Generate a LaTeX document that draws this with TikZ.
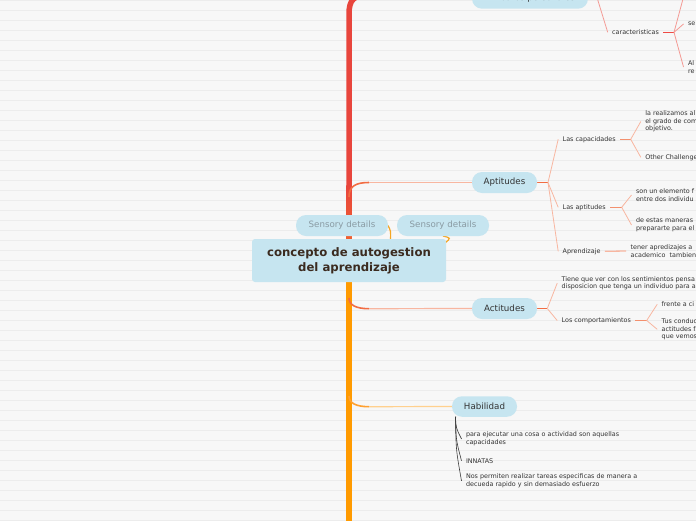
\documentclass[tikz,border=0pt]{standalone}
\usepackage{fontspec}
\setmainfont{DejaVu Sans}
\definecolor{bgcol}{HTML}{F7F7F7}
\definecolor{gridcol}{HTML}{ECECEC}
\definecolor{nodeblue}{HTML}{C6E5F0}
\definecolor{labeltext}{HTML}{333333}
\definecolor{maintext}{HTML}{3B2B20}
\definecolor{sensegray}{HTML}{8A9BA3}
\definecolor{trunkred}{HTML}{E8453C}
\definecolor{trunkmid}{HTML}{F0602F}
\definecolor{trunkorange}{HTML}{FF9A00}
\definecolor{aptdark}{HTML}{F26C42}
\definecolor{aptmid}{HTML}{F3906E}
\definecolor{aptlight}{HTML}{F8B6A0}
\definecolor{atrdark}{HTML}{EE4A44}
\definecolor{atrlight}{HTML}{F49A94}
\definecolor{habdark}{HTML}{FFA030}
\definecolor{hablight}{HTML}{FFD08E}
\definecolor{sensecon}{HTML}{F5A623}
\definecolor{habfan}{HTML}{3A3A3A}
\pgfdeclarelayer{back}
\pgfdeclarelayer{lines}
\pgfsetlayers{back,lines,main}
\begin{document}
\begin{tikzpicture}[x=1pt,y=-1pt,
  every node/.style={inner sep=0pt, outer sep=0pt},
  topic/.style={fill=nodeblue, rounded corners=10pt, minimum height=21pt,
    font=\fontsize{8.7}{10}\selectfont, text=labeltext},
  sensory/.style={topic, text=sensegray, minimum width=92pt},
  central/.style={fill=nodeblue, rounded corners=3pt, minimum width=194pt,
    minimum height=43pt, align=center, text=maintext,
    font=\fontsize{11.7}{15}\bfseries\selectfont},
  leaf/.style={anchor=west, align=left, inner xsep=4.5pt,
    font=\fontsize{6.4}{7.7}\selectfont, text=labeltext},
  gridline/.style={draw=gridcol, line width=0.9pt},
  trunk/.style={line width=5.5pt},
  brcurve/.style={draw=#1, line width=1.6pt},
  brline/.style={draw=#1, line width=1.2pt},
  stem/.style={draw=#1, line width=1.3pt},
  fan/.style={draw=#1, line width=0.8pt},
  habline/.style={draw=habfan, line width=0.6pt},
  sensoryline/.style={draw=sensecon, line width=1.2pt}
]
\useasboundingbox (0,0) rectangle (696,520);
\clip (0,0) rectangle (696,520);
\begin{pgfonlayer}{back}
\fill[bgcol] (0,0) rectangle (696,520);
\foreach \k in {0,...,52} \draw[gridline] (0,{10*\k+0.7}) -- (696,{10*\k+0.7});
\end{pgfonlayer}

% main nodes
\node[central] (c) at (349,260.5) {concepto de autogestion\\del aprendizaje};
\node[sensory] (s1) at (342,225.5) {Sensory details};
\node[sensory] (s2) at (443,225.5) {Sensory details};
\node[topic, minimum width=116pt] (atr) at (530,-1.8) {Atributos personales};
\node[topic, minimum width=65pt] (apt) at (504.5,182.5) {Aptitudes};
\node[topic, minimum width=65pt] (act) at (504.5,308.5) {Actitudes};
\node[topic, minimum width=65pt, minimum height=20.5pt] (hab) at (484.5,406.5) {Habilidad};

% leaves: Atributos personales
\node[leaf] (car) at (607.7,32.3) {caracteristicas};
\node[leaf] (carA) at (683.5,24) {se};
\node[leaf] (carB) at (683.5,67) {Al\\re};
% leaves: Aptitudes
\node[leaf] (cap) at (558.2,139.3) {Las capacidades};
\node[leaf] (capA) at (640.8,121.5) {la realizamos al\\el grado de com\\objetivo.};
\node[leaf] (capB) at (640.8,157.3) {Other Challenge};
\node[leaf] (aptd) at (558.2,207.3) {Las aptitudes};
\node[leaf] (aptdA) at (631.5,195) {son un elemento f\\entre dos individu};
\node[leaf] (aptdB) at (631.5,225) {de estas maneras\\prepararte para el};
\node[leaf] (apr) at (558.2,251.3) {Aprendizaje};
\node[leaf] (aprA) at (626.2,251) {tener apredizajes a\\academico\ \ tambien};
% leaves: Actitudes
\node[leaf] (actA) at (557.2,283.2) {Tiene que ver con los sentimientos pensa\\disposicion que tenga un individuo para a};
\node[leaf] (comp) at (557.2,320.5) {Los comportamientos};
\node[leaf] (compA) at (657.2,304.3) {frente a ci};
\node[leaf] (compB) at (657.2,329.3) {Tus conduc\\actitudes f\\que vemos};
% leaves: Habilidad
\node[leaf] (h1) at (461.5,438.9) {para ejecutar una cosa o actividad son aquellas\\capacidades};
\node[leaf] (h2) at (461.5,460.7) {INNATAS};
\node[leaf] (h3) at (461.5,480.8) {Nos permiten realizar tareas especificas de manera a\\decueda rapido y sin demasiado esfuerzo};

% coordinates
\coordinate (tA) at (349,197);
\coordinate (tC) at (349,298);
\coordinate (tH) at (349,396);
\coordinate (aC) at (369,182.5);
\coordinate (cC) at (369,308.7);
\coordinate (hC) at (369,406.7);
\coordinate (atF) at (597,-2.5);
\coordinate (carF) at (674,32.3);
\coordinate (carUp) at (687,-16);
\coordinate (aF) at (548,182.5);
\coordinate (capF) at (630.7,139.3);
\coordinate (aptdF) at (621.7,207.3);
\coordinate (acF) at (547.3,308.5);
\coordinate (compF) at (646.7,320.5);
\coordinate (hF) at (455.5,417);

\begin{pgfonlayer}{lines}
% trunk
\draw[trunk, draw=trunkred] (c.north) -- (349,14) .. controls (349,0) and (354,-4.5) .. (366,-4.5) -- (atr.west |- 0,-4.5);
\shade[top color=trunkred, bottom color=trunkmid] (346.25,185) rectangle (351.75,240);
\draw[trunk, draw=trunkorange] (c.south) -- (349,525);
% sensory connectors
\draw[sensoryline] (390.5,239.5) .. controls (390.8,231) .. (s1.east);
\draw[sensoryline] (c.north east) ++(-1,4) .. controls (451,238) .. (s2.south);
% branches
\draw[brcurve=aptdark] (tA) .. controls (349,186) and (356,182.5) .. (aC);
\draw[brline=aptlight] (aC) -- (apt.west);
\draw[brcurve=aptdark] (tC) .. controls (349,305) and (356,308.7) .. (cC);
\draw[brline=aptlight] (cC) -- (act.west);
\draw[brcurve=habdark] (tH) .. controls (349,403) and (356,406.7) .. (hC);
\draw[brline=hablight] (hC) -- (hab.west);
% Atributos subtree
\draw[fan=atrlight] (atr.east) -- (atF) -- (car.west);
\draw[stem=atrdark] (car.east) -- (carF);
\draw[fan=atrlight] (carF) -- (carUp);
\draw[fan=atrlight] (carF) -- (carA.west);
\draw[fan=atrlight] (carF) -- (carB.west);
% Aptitudes subtree
\draw[stem=aptdark] (apt.east) -- (aF);
\draw[fan=aptlight] (aF) -- (cap.west);
\draw[fan=aptlight] (aF) -- (aptd.west);
\draw[fan=aptlight] (aF) -- (apr.west);
\draw[stem=aptmid] (cap.east) -- (capF);
\draw[fan=aptlight] (capF) -- (capA.west);
\draw[fan=aptlight] (capF) -- (capB.west);
\draw[stem=aptmid] (aptd.east) -- (aptdF);
\draw[fan=aptlight] (aptdF) -- (aptdA.west);
\draw[fan=aptlight] (aptdF) -- (aptdB.west);
\draw[stem=aptlight] (apr.east) -- (aprA.west);
% Actitudes subtree
\draw[stem=aptdark] (act.east) -- (acF);
\draw[fan=aptlight] (acF) -- (actA.west);
\draw[fan=aptlight] (acF) -- (comp.west);
\draw[stem=aptmid] (comp.east) -- (compF);
\draw[fan=aptlight] (compF) -- (compA.west);
\draw[fan=aptlight] (compF) -- (compB.west);
% Habilidad subtree
\draw[habline, line width=1pt] (hab.south west) ++(4,0) -- (hF);
\draw[habline] (hF) .. controls (456,428) .. (h1.west);
\draw[habline] (hF) .. controls (456,440) .. (h2.west);
\draw[habline] (hF) .. controls (456,450) .. (h3.west);
\end{pgfonlayer}
\end{tikzpicture}
\end{document}
